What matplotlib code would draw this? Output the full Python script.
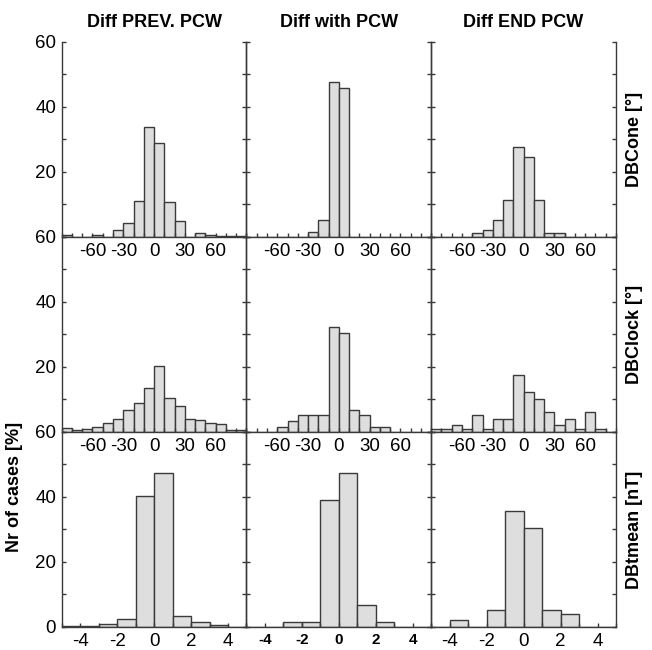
import numpy as np
import matplotlib.pyplot as plt

plt.rcParams['font.family'] = ['Liberation Sans', 'DejaVu Sans']

# column / row titles
col_titles = ['Diff PREV. PCW', 'Diff with PCW', 'Diff END PCW']
row_labels = ['DBCone [°]', 'DBClock [°]', 'DBtmean [nT]']

# bin edges
ang_edges = np.arange(-90, 91, 10)
nt_edges = np.arange(-5, 6, 1)

# % of cases per bin
cone_prev = [0.6, 0, 0, 0.6, 0, 2.3, 4.4, 11.2, 33.8, 28.9, 10.9, 4.9, 0, 1.3, 0.6, 0.2, 0.2, 0.2]
cone_with = [0, 0, 0, 0, 0, 0, 1.6, 5.1, 47.7, 45.9, 0, 0, 0, 0, 0, 0, 0, 0]
cone_end = [0, 0, 0, 0, 1.2, 2.3, 5.1, 11.3, 27.7, 24.6, 11.3, 1.2, 1.2, 0, 0, 0, 0, 0]

clock_prev = [1.3, 0.7, 0.8, 1.6, 2.8, 3.9, 6.9, 9.0, 13.5, 20.2, 10.5, 8.1, 4.1, 3.7, 2.8, 2.5, 0.5, 0.5]
clock_with = [0, 0, 0, 1.6, 3.4, 5.1, 5.1, 5.1, 32.3, 30.6, 6.9, 5.1, 1.6, 1.6, 0, 0, 0, 0]
clock_end = [0.9, 0.9, 2.2, 0.9, 5.1, 0.9, 4.0, 4.0, 17.4, 12.2, 10.2, 6.1, 2.2, 4.0, 0.9, 6.1, 0.9, 0]

tmean_prev = [0.4, 0.4, 1.0, 2.5, 40.3, 47.5, 3.5, 1.5, 0.5, 0]
tmean_with = [0, 0, 1.5, 1.5, 39.0, 47.5, 6.9, 1.5, 0, 0]
tmean_end = [0, 2.1, 0, 5.1, 35.7, 30.5, 5.1, 4.1, 0, 0]

data = [[cone_prev, cone_with, cone_end],
        [clock_prev, clock_with, clock_end],
        [tmean_prev, tmean_with, tmean_end]]
edges = [ang_edges, ang_edges, nt_edges]

edge_col = '#3a3a3a'
fs = 13
tfs = 13.5
fig, axes = plt.subplots(3, 3, figsize=(6.52, 6.50), dpi=100)
fig.subplots_adjust(left=0.0946, right=0.9448, top=0.9354, bottom=0.0354,
                    wspace=0, hspace=0)

for r in range(3):
    for c in range(3):
        ax = axes[r, c]
        ax.patch.set_visible(False)  # so tick labels of the row above stay visible
        e = edges[r]
        ax.bar(e[:-1], data[r][c], width=np.diff(e), align='edge',
               color='#dedede', edgecolor=edge_col, linewidth=1.0)
        ax.set_ylim(0, 60)
        ax.set_xlim(e[0], e[-1])
        ax.spines['top'].set_visible(False)
        for s in ['left', 'right', 'bottom']:
            ax.spines[s].set_color(edge_col)
            ax.spines[s].set_linewidth(1.0)
        ax.set_yticks(np.arange(0, 61, 10))
        if c == 0:
            ylabs = ['0' if (r == 2 and v == 0) else (str(v) if v in (20, 40, 60) else '')
                     for v in range(0, 61, 10)]
            ax.set_yticklabels(ylabs, fontsize=tfs)
        else:
            ax.set_yticklabels([])
        if r < 2:
            ax.set_xticks(np.arange(-90, 91, 10))
            ax.set_xticklabels([str(v) if v in (-60, -30, 0, 30, 60) else ''
                                for v in range(-90, 91, 10)], fontsize=tfs)
        else:
            ax.set_xticks(np.arange(-5, 6, 1))
            labs = [str(v) if v in (-4, -2, 0, 2, 4) else '' for v in range(-5, 6)]
            if c == 1:
                ax.set_xticklabels(labs, fontsize=11, fontweight='bold')
            else:
                ax.set_xticklabels(labs, fontsize=tfs)
        ax.tick_params(direction='in', length=3, width=1.0, color=edge_col,
                       left=True, right=True, top=False, pad=4)
        if r == 0:
            ax.set_title(col_titles[c], fontsize=fs, fontweight='bold', pad=11)
        if c == 2:
            ax.yaxis.set_label_position('right')
            ax.set_ylabel(row_labels[r], fontsize=fs, fontweight='bold',
                          rotation=90, labelpad=7)

fig.text(0.022, 0.251, 'Nr of cases [%]', fontsize=fs, fontweight='bold',
         rotation=90, ha='center', va='center')

plt.savefig('out.png', dpi=100)
